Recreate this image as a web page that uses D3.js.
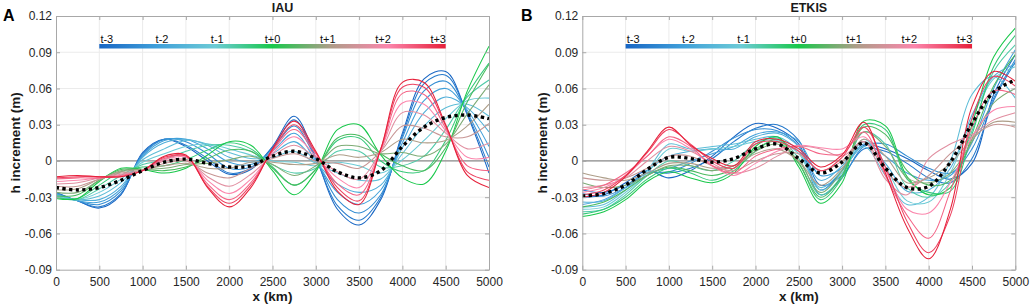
<!DOCTYPE html>
<html><head><meta charset="utf-8">
<script src="https://cdn.jsdelivr.net/npm/d3@7"></script>
<style>
body{margin:0;background:#fff}
svg{display:block}
text{font-family:Arial,"Liberation Sans",Helvetica,sans-serif}
</style>
</head><body>
<svg id="c" width="1031" height="308"></svg>
<script>
// ---------------- data ----------------
const xKm = [0,250,500,750,1000,1250,1500,1750,2000,2250,2500,2750,3000,3250,3500,3750,4000,4250,4500,4750,5000];
const lineTimes = [-3,-2.67,-2.33,-2,-1.67,-1.33,-1,-0.67,-0.33,0,0.33,0.67,1,1.33,1.67,2,2.33,2.67,3];
const xTicks = [0,500,1000,1500,2000,2500,3000,3500,4000,4500,5000];
const yTicks = [-0.09,-0.06,-0.03,0,0.03,0.06,0.09,0.12];
const barLabels = ["t-3","t-2","t-1","t+0","t+1","t+2","t+3"];
const barStopTimes = [-3,-2,-1,0,1,2,3];
const barColors = ["#1866c4","#40a0da","#6ccbd6","#18c84a","#ad9d88","#fb86ac","#e6203a"];
const MM = 0.001; // values below are in units of 0.001 m

// IAU: one row per time (t-3 ... t+3 every 1/3)
const iauLines = [
 [-26,-33,-39,-28,7,18,12,0,-11,-7,12,37,3,-40,-53,-32,23,68,74,38,-10],
 [-26,-33,-38,-27,6,18,13,2,-10,-6,11,34,2,-37,-49,-30,21,64,71,39,-5],
 [-27,-33,-36,-25,5,18,16,6,-6,-5,10,29,2,-32,-43,-28,19,58,66,40,3],
 [-27,-33,-34,-23,4,17,18,10,-1,-3,8,23,0,-26,-36,-24,15,50,60,42,12],
 [-28,-32,-32,-21,3,15,18,13,3,-1,6,16,-1,-19,-26,-20,11,40,53,44,24],
 [-28,-32,-29,-18,1,10,17,14,7,2,3,8,-2,-10,-16,-15,6,29,44,47,37],
 [-29,-32,-26,-15,-1,6,12,14,10,5,0,-1,-4,-1,-4,-10,1,17,35,50,52],
 [-30,-32,-23,-12,-3,1,8,13,13,8,-3,-10,-6,8,8,-5,-4,4,26,53,67],
 [-30,-31,-20,-9,-5,-4,1,9,15,10,-5,-20,-7,17,19,0,-9,-8,17,55,81],
 [-31,-31,-17,-6,-7,-10,-6,5,16,13,-8,-28,-9,26,30,5,-14,-19,8,58,95],
 [-29,-28,-16,-7,-7,-8,-5,2,9,8,-6,-20,-7,19,21,6,-4,-8,11,49,80],
 [-26,-26,-16,-8,-7,-6,-3,-2,1,4,-3,-12,-4,12,12,6,7,4,14,39,63],
 [-24,-23,-15,-9,-7,-4,-2,-6,-6,-1,-1,-3,-2,5,3,7,18,15,17,29,47],
 [-21,-21,-15,-10,-8,-2,0,-10,-14,-6,2,6,0,-2,-6,8,29,27,20,20,31],
 [-19,-18,-14,-11,-8,0,1,-13,-21,-11,4,13,3,-9,-15,8,40,38,23,10,15],
 [-17,-16,-14,-12,-8,1,3,-16,-27,-15,6,20,4,-14,-22,9,48,47,25,3,3],
 [-15,-14,-14,-12,-8,2,4,-19,-32,-18,8,26,6,-19,-28,9,56,55,27,-4,-8],
 [-14,-13,-13,-13,-8,3,4,-21,-35,-20,9,30,7,-22,-33,10,61,61,29,-9,-16],
 [-13,-12,-13,-13,-8,4,5,-22,-38,-22,10,33,8,-25,-36,10,65,65,30,-12,-22]
];
const iauMean = [-22,-24,-22,-16,-8,-1,1.5,-2,-5,-4,4,8,2,-9,-14,-8,12,28,36,38,35];

// ETKIS
const etkisLines = [
 [-30,-28,-18,-8,-14,-8,4,20,31,27,14,-24,-8,13,10,2,-8,-15,-2,55,88],
 [-24,-26,-20,-10,-10,-6,2,16,27,30,17,-20,-12,10,8,-2,-14,-18,2,50,82],
 [-27,-29,-22,-10,-9,-2,8,19,26,25,12,-28,-14,12,14,4,-6,-10,10,52,84],
 [-36,-32,-22,-10,-6,0,6,12,22,24,16,-12,-6,14,4,-10,-16,-12,15,60,92],
 [-34,-33,-22,-8,4,8,10,10,20,23,12,-16,-4,16,-2,-25,-24,-6,38,70,80],
 [-38,-36,-24,-8,14,10,12,14,18,20,8,-22,-8,12,-12,-36,-30,0,55,70,52],
 [-40,-38,-26,-10,10,8,10,12,16,17,6,-24,-10,18,-5,-33,-34,-10,35,68,78],
 [-42,-40,-28,-12,0,-4,-8,0,14,19,2,-28,-12,24,14,-22,-30,-18,25,74,96],
 [-44,-40,-30,-15,-6,-10,-16,-8,8,18,-2,-32,-14,30,26,-15,-26,-25,22,78,104],
 [-46,-42,-32,-17,-9,-14,-18,-10,12,20,-5,-35,-18,33,29,-13,-28,-22,30,86,110],
 [-38,-34,-24,-12,-5,-8,-12,-6,10,16,-2,-30,-12,28,22,-8,-20,-16,18,62,88],
 [-18,-22,-20,-12,-4,-4,-8,-4,8,14,0,-26,-8,24,12,-14,-18,-10,16,48,60],
 [-10,-14,-16,-10,-2,-2,-6,-4,6,10,0,-20,-6,18,4,-18,-14,-2,18,32,32],
 [-14,-16,-14,-6,4,4,-4,-8,0,6,6,-8,0,16,-8,-22,-12,6,20,30,28],
 [-22,-20,-14,0,12,8,-2,-10,-6,4,12,10,4,16,-15,-28,2,14,22,34,40],
 [-26,-22,-12,4,18,10,-4,-12,-2,8,13,11,10,20,-8,-40,-43,-18,20,42,45],
 [-24,-20,-10,4,20,12,-4,-10,4,10,12,6,6,24,-12,-45,-64,-25,28,58,55],
 [-28,-24,-12,7,26,14,0,-6,14,16,8,-8,3,28,-5,-50,-76,-45,35,70,62],
 [-30,-26,-13,8,28,13,2,-4,16,18,10,-5,5,32,-10,-55,-81,-40,45,74,66]
];
const etkisMean = [-29,-27,-20,-7,3,2,-1,2,10,14,2,-10,-1,15,-6,-22,-21,-1,31,57,67];

const panels = [
 {letter:"A", title:"IAU", x0:56, x1:489, lines:iauLines, mean:iauMean, ylabX:15, letterX:3},
 {letter:"B", title:"ETKIS", x0:582.3, x1:1015.3, lines:etkisLines, mean:etkisMean, ylabX:542.5, letterX:521}
];

// ---------------- drawing ----------------
const svg = d3.select("#c");
const defs = svg.append("defs");
const y = d3.scaleLinear().domain([-0.09,0.12]).range([269.7,16]);
const tColor = d3.scaleLinear().domain(barStopTimes).range(barColors).interpolate(d3.interpolateRgb);

const grad = defs.append("linearGradient").attr("id","tgrad").attr("x1","0%").attr("x2","100%");
barStopTimes.forEach((t,i)=>grad.append("stop").attr("offset",(i/(barStopTimes.length-1)*100)+"%").attr("stop-color",tColor(t)));

const fmtY = d => d===0 ? "0" : d.toFixed(2);
const axisCol = "#a8a8a8", textCol = "#262626";

panels.forEach(p=>{
  const x = d3.scaleLinear().domain([0,5000]).range([p.x0,p.x1]);
  const g = svg.append("g");
  const top = y(0.12), bot = y(-0.09);

  g.append("g").selectAll("line").data(xTicks.slice(1,-1)).join("line")
    .attr("x1",d=>x(d)).attr("x2",d=>x(d)).attr("y1",top).attr("y2",bot)
    .attr("stroke","#ebebeb").attr("stroke-width",1);
  g.append("g").selectAll("line").data(yTicks.slice(1,-1)).join("line")
    .attr("x1",p.x0).attr("x2",p.x1).attr("y1",d=>y(d)).attr("y2",d=>y(d))
    .attr("stroke","#ebebeb").attr("stroke-width",1);

  g.append("line").attr("x1",p.x0).attr("x2",p.x1).attr("y1",y(0)).attr("y2",y(0))
    .attr("stroke","#8c8c8c").attr("stroke-width",1.3);

  const cid = "clip"+p.letter;
  defs.append("clipPath").attr("id",cid).append("rect")
    .attr("x",p.x0).attr("y",top).attr("width",p.x1-p.x0).attr("height",bot-top);
  const plot = g.append("g").attr("clip-path",`url(#${cid})`);

  const line = d3.line().x((d,i)=>x(xKm[i])).y(d=>y(d*MM)).curve(d3.curveCatmullRom.alpha(0.5));
  plot.selectAll("path.ln").data(p.lines).join("path").attr("class","ln")
    .attr("d",line).attr("fill","none")
    .attr("stroke",(d,i)=>tColor(lineTimes[i])).attr("stroke-width",1.05);

  plot.append("path").attr("d",line(p.mean)).attr("fill","none")
    .attr("stroke","#000").attr("stroke-width",3.4).attr("stroke-dasharray","3.2,3.4");

  const bx0 = x(500), bx1 = x(4500);
  g.append("rect").attr("x",bx0).attr("y",44).attr("width",bx1-bx0).attr("height",4.5).attr("fill","url(#tgrad)");
  const lp = d3.scalePoint().domain(barLabels).range([bx0+7.5,bx1-7.5]);
  g.selectAll("text.bl").data(barLabels).join("text").attr("class","bl")
    .attr("x",d=>lp(d)).attr("y",42.6).attr("text-anchor","middle")
    .attr("font-size",11).attr("fill","#111").text(d=>d);

  const ax = g.append("g").attr("transform",`translate(0,${bot})`)
    .call(d3.axisBottom(x).tickValues(xTicks).tickSizeInner(-4).tickSizeOuter(0).tickPadding(8).tickFormat(d3.format("d")));
  const axT = g.append("g").attr("transform",`translate(0,${top})`)
    .call(d3.axisTop(x).tickValues(xTicks).tickSizeInner(-4).tickSizeOuter(0).tickFormat(""));
  const ay = g.append("g").attr("transform",`translate(${p.x0},0)`)
    .call(d3.axisLeft(y).tickValues(yTicks).tickSizeInner(-4).tickSizeOuter(0).tickPadding(4).tickFormat(fmtY));
  const ayR = g.append("g").attr("transform",`translate(${p.x1},0)`)
    .call(d3.axisRight(y).tickValues(yTicks).tickSizeInner(-4).tickSizeOuter(0).tickFormat(""));
  [ax,axT,ay,ayR].forEach(a=>{
    a.select(".domain").attr("stroke",axisCol).attr("stroke-width",1);
    a.selectAll(".tick line").attr("stroke",axisCol);
    a.selectAll("text").attr("fill",textCol).attr("font-size",12)
      .attr("font-family",'Arial,"Liberation Sans",Helvetica,sans-serif');
  });
  ax.selectAll("text").attr("dy","0.71em").attr("y",8);

  g.append("text").attr("x",(p.x0+p.x1)/2).attr("y",301).attr("text-anchor","middle")
    .attr("font-size",13.5).attr("font-weight","bold").attr("fill","#1a1a1a").text("x (km)");
  g.append("text").attr("transform",`translate(${p.ylabX},${(top+bot)/2}) rotate(-90)`)
    .attr("text-anchor","middle").attr("dy","0.35em")
    .attr("font-size",13.5).attr("font-weight","bold").attr("fill","#1a1a1a").text("h increment (m)");
  g.append("text").attr("x",(p.x0+p.x1)/2+10).attr("y",11.7).attr("text-anchor","middle")
    .attr("font-size",12.5).attr("font-weight","bold").attr("fill","#1a1a1a").text(p.title);
  g.append("text").attr("x",p.letterX).attr("y",20.5)
    .attr("font-size",16).attr("font-weight","bold").attr("fill","#000").text(p.letter);
});
</script>
</body></html>
